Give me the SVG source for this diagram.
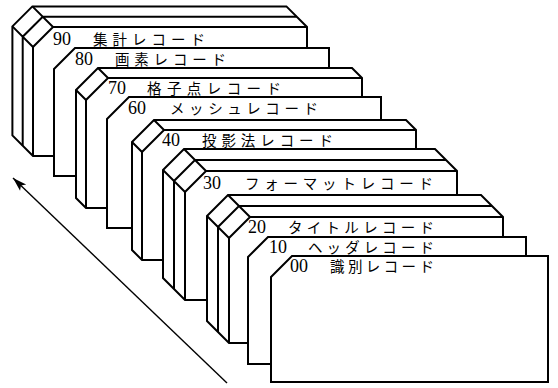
<svg xmlns="http://www.w3.org/2000/svg" width="558" height="388" viewBox="0 0 558 388">
<defs>
<style>
.s{fill:#fff;stroke:#000;stroke-width:2;stroke-linejoin:miter}
.e{fill:none;stroke:#000;stroke-width:2}
.n{font-family:"Liberation Serif",serif;font-size:18px;fill:#000}
.j{font-family:"Noto Sans CJK JP","Noto Sans",sans-serif;font-size:14.5px;fill:#000}
.a{fill:none;stroke:#000;stroke-width:1.4}
</style>
<marker id="ah" markerWidth="16" markerHeight="10" refX="15" refY="5" orient="auto" markerUnits="userSpaceOnUse">
<path d="M15,5 L1,0.6 L4,5 L1,9.4 Z" fill="#000"/>
</marker>
</defs>
<rect width="558" height="388" fill="#fff"/>
<g id="card-90">
<polygon class="s" points="12.4,26.4 32.4,6.4 286.4,6.4 307,27 307,156 33,156 12.4,135.4"/>
<path class="e" d="M33,156V47L53,27H307M33,47L12.4,26.4M53,27L32.4,6.4M22.7,145.7V36.7L42.7,16.7H296.7"/>
<text class="n" x="53" y="45">90</text>
<text class="j" x="93" y="45" textLength="112" lengthAdjust="spacing">集計レコード</text>
</g>
<g id="card-80">
<polygon class="s" points="54,69 75,48 329,48 329,176 54,176"/>
<text class="n" x="75" y="65">80</text>
<text class="j" x="115" y="65" textLength="111" lengthAdjust="spacing">画素レコード</text>
</g>
<g id="card-70">
<polygon class="s" points="76,90 98,68 352,68 362,78 362,208 86,208 76,198"/>
<path class="e" d="M86,208V100L108,78H362M86,100L76,90M108,78L98,68"/>
<text class="n" x="108" y="94">70</text>
<text class="j" x="147" y="94" textLength="134" lengthAdjust="spacing">格子点レコード</text>
</g>
<g id="card-60">
<polygon class="s" points="107,119 129,97 381,97 381,228 107,228"/>
<text class="n" x="128" y="114">60</text>
<text class="j" x="170" y="114" textLength="148" lengthAdjust="spacing">メッシュレコード</text>
</g>
<g id="card-40">
<polygon class="s" points="132,142 154,120 406,120 416,130 416,260 142,260 132,250"/>
<path class="e" d="M142,260V152L164,130H416M142,152L132,142M164,130L154,120"/>
<text class="n" x="162" y="146">40</text>
<text class="j" x="202" y="146" textLength="131" lengthAdjust="spacing">投影法レコード</text>
</g>
<g id="card-30">
<polygon class="s" points="163,170 184,149 435,149 457,171 457,300 185,300 163,278"/>
<path class="e" d="M185,300V192L206,171H457M185,192L163,170M206,171L184,149M174,289V181L195,160H446"/>
<text class="n" x="203" y="189">30</text>
<text class="j" x="245" y="189" textLength="188" lengthAdjust="spacing">フォーマットレコード</text>
</g>
<g id="card-20">
<polygon class="s" points="207,216 228,195 481,195 503,217 503,343 229,343 207,321"/>
<path class="e" d="M229,343V238L250,217H503M229,238L207,216M250,217L228,195M218,332V227L239,206H492"/>
<text class="n" x="248" y="233">20</text>
<text class="j" x="288" y="233" textLength="146" lengthAdjust="spacing">タイトルレコード</text>
</g>
<g id="card-10">
<polygon class="s" points="248,257 268,237 526,237 526,364 248,364"/>
<text class="n" x="269" y="253">10</text>
<text class="j" x="308" y="253" textLength="126" lengthAdjust="spacing">ヘッダレコード</text>
</g>
<g id="card-00">
<polygon class="s" points="271,277 292,256 548,256 548,382 271,382"/>
<text class="n" x="290" y="272">00</text>
<text class="j" x="330" y="272" textLength="104" lengthAdjust="spacing">識別レコード</text>
</g>
<g id="connectors">
<line class="a" x1="227" y1="383" x2="13" y2="178" marker-end="url(#ah)"/>
</g>
</svg>
